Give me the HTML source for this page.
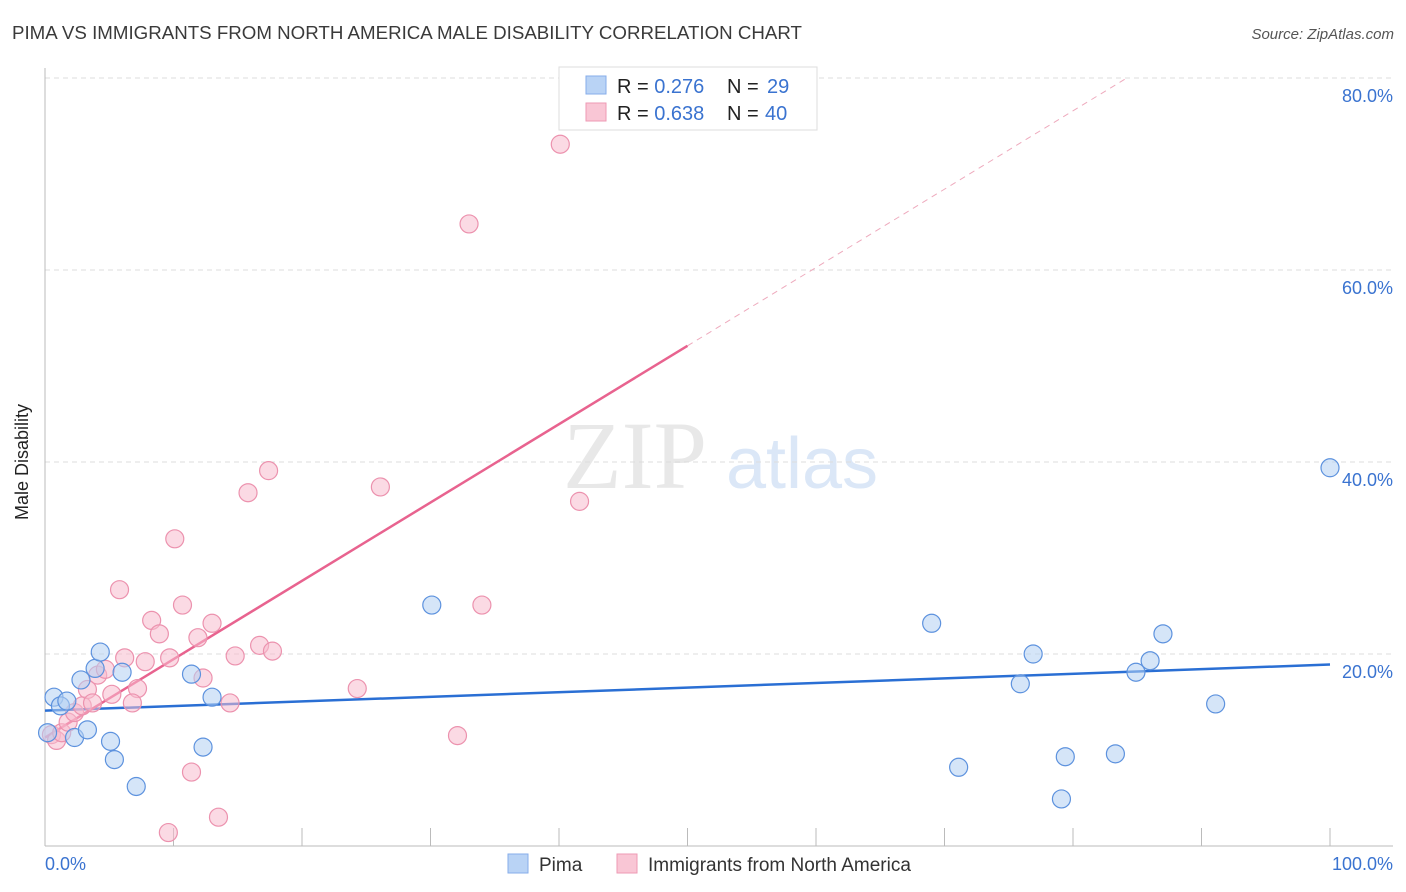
<!DOCTYPE html>
<html><head><meta charset="utf-8"><style>
body{margin:0;background:#fff;font-family:"Liberation Sans",sans-serif;}
svg{display:block}
</style></head><body>
<svg id="chart" width="1406" height="892" xmlns="http://www.w3.org/2000/svg">
<text x="12" y="39" font-size="18" textLength="790" lengthAdjust="spacingAndGlyphs" fill="#3a3a3a">PIMA VS IMMIGRANTS FROM NORTH AMERICA MALE DISABILITY CORRELATION CHART</text>
<text x="1394" y="39" font-size="15" fill="#555" font-style="italic" text-anchor="end">Source: ZipAtlas.com</text>
<text x="22" y="456" font-size="18" fill="#222" text-anchor="middle" transform="rotate(-90 28 456)">Male Disability</text>
<g>
<text x="635" y="488" font-size="96" fill="#e8e8e8" font-family="Liberation Serif,serif" text-anchor="middle">ZIP</text>
<text x="802" y="488" font-size="72" fill="#dbe7f7" text-anchor="middle">atlas</text>
</g>
<g id="grid"></g>
<g id="axes"></g>
<g id="lines"></g>
<g id="points"></g>
<g>
<rect x="559" y="67" width="258" height="63" fill="#fff" stroke="#ddd"/>
<rect x="586" y="76" width="20" height="18" fill="#b9d3f5" stroke="#86acea"/>
<rect x="586" y="103" width="20" height="18" fill="#f9c6d5" stroke="#ee9ab4"/>
<text x="617" y="93" font-size="20" fill="#222">R = <tspan fill="#3a73d0">0.276</tspan><tspan x="727">N = </tspan><tspan fill="#3a73d0" x="767">29</tspan></text>
<text x="617" y="120" font-size="20" fill="#222">R = <tspan fill="#3a73d0">0.638</tspan><tspan x="727">N = </tspan><tspan fill="#3a73d0" x="765">40</tspan></text>
</g>
<g>
<rect x="508" y="854" width="20" height="19" fill="#b9d3f5" stroke="#86acea"/>
<text x="539" y="871" font-size="19" fill="#333">Pima</text>
<rect x="617" y="854" width="20" height="19" fill="#f9c6d5" stroke="#ee9ab4"/>
<text x="648" y="871" font-size="19" fill="#333">Immigrants from North America</text>
</g>
<text x="45" y="870" font-size="18" fill="#3a73d0">0.0%</text>
<text x="1393" y="870" font-size="18" fill="#3a73d0" text-anchor="end">100.0%</text>
</svg>
<script>
const yTicks=[20,40,60,80];
const pimaX=[0.7,1.2,1.7,2.3,2.8,3.3,3.9,4.3,5.1,5.4,6.0,7.1,11.4,12.3,13.0,30.1,69.0,71.1,75.9,76.9,79.4,79.1,83.3,84.9,86.0,87.0,91.1,100,0.2];
const pimaY=[15.5,14.6,15.1,11.3,17.3,12.1,18.5,20.2,10.9,9.0,18.1,6.2,17.9,10.3,15.5,25.1,23.2,8.2,16.9,20.0,9.3,4.9,9.6,18.1,19.3,22.1,14.8,39.4,11.8];
const immX=[0.5,0.9,1.3,1.8,2.3,2.9,3.3,3.7,4.1,4.7,5.2,5.8,6.2,7.2,6.8,7.8,8.3,8.9,9.7,10.1,10.7,11.9,12.3,13.0,13.5,14.4,14.8,15.8,16.7,17.4,17.7,24.3,26.1,32.1,33.0,34.0,40.1,41.6,11.4,9.6];
const immY=[11.6,11.0,11.8,12.9,13.9,14.6,16.3,14.9,17.8,18.4,15.8,26.7,19.6,16.4,14.9,19.2,23.5,22.1,19.6,32.0,25.1,21.7,17.5,23.2,3.0,14.9,19.8,36.8,20.9,39.1,20.3,16.4,37.4,11.5,64.8,25.1,73.1,35.9,7.7,1.4];
const pimaTrend=[14.1,18.9];
const immTrend=[11.3,92.9];
const NS="http://www.w3.org/2000/svg";
const X=v=>45+v*12.85, Y=v=>846-v*9.6;
function mk(p,t,a){const e=document.createElementNS(NS,t);for(const k in a)e.setAttribute(k,a[k]);document.getElementById(p).appendChild(e);return e;}
yTicks.forEach(t=>{
 const l=mk('grid','line',{x1:45,x2:1393,y1:Y(t),y2:Y(t),stroke:'#ddd','stroke-dasharray':'5,4'});
 
 
 const tx=mk('grid','text',{x:1393,y:Y(t)+24,'font-size':18,fill:'#3a73d0','text-anchor':'end'});
 tx.textContent=t.toFixed(1)+'%';
 
 
});
const ax=mk('axes','line',{x1:45,x2:1393,y1:846,y2:846,stroke:'#bbb'});


const ay=mk('axes','line',{x1:45,x2:45,y1:68,y2:846,stroke:'#bbb'});


for(let i=1;i<=10;i++){
 const t=mk('axes','line',{x1:X(i*10),x2:X(i*10),y1:828,y2:846,stroke:'#bbb'});
 
 
}
function pt(x,y,fill,stroke,name){
 const c=mk('points','circle',{cx:X(x),cy:Y(y),r:9,fill:fill,'fill-opacity':0.55,stroke:stroke,'stroke-width':1.2});
 
 
}
immX.forEach((x,i)=>pt(x,immY[i],'#f7bccd','#ec92ae','immigrants-point'));
pimaX.forEach((x,i)=>pt(x,pimaY[i],'#b3cff3','#5d92de','pima-point'));
const pl=mk('lines','line',{x1:X(0),y1:Y(pimaTrend[0]),x2:X(100),y2:Y(pimaTrend[1]),stroke:'#2a6fd4','stroke-width':2.5});


const s=(immTrend[1]-immTrend[0])/100;
const yAt=x=>immTrend[0]+s*x;
const il=mk('lines','line',{x1:X(0),y1:Y(yAt(0)),x2:X(50),y2:Y(yAt(50)),stroke:'#e8638f','stroke-width':2.5});


const xEnd=(80-immTrend[0])/s;
const id=mk('lines','line',{x1:X(50),y1:Y(yAt(50)),x2:X(xEnd),y2:Y(80),stroke:'#eeaabd','stroke-width':1,'stroke-dasharray':'6,5'});


</script>
</body></html>
